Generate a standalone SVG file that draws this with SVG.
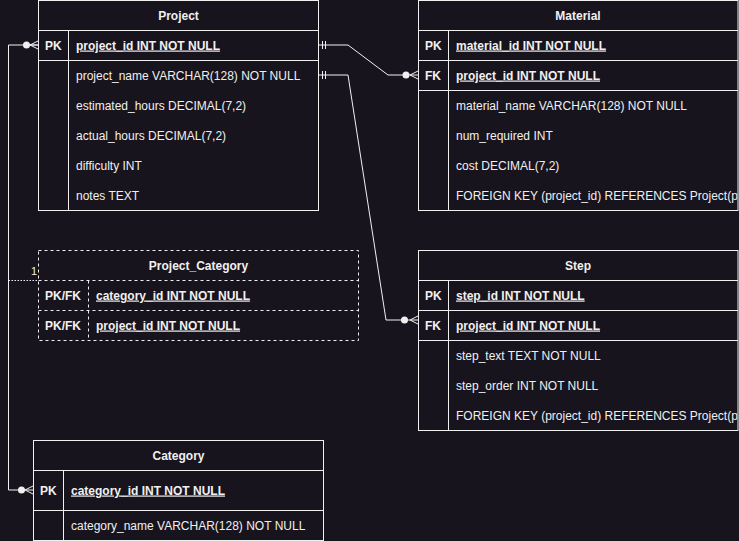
<svg xmlns="http://www.w3.org/2000/svg" width="739" height="541" viewBox="0 0 739 541">
<style>
.bg{fill:#18141d}
.box{fill:#18141d;stroke:#f0f0f0;stroke-width:1}
.dash{fill:#18141d;stroke:#f0f0f0;stroke-width:1;stroke-dasharray:3 3}
.ln{stroke:#f0f0f0;stroke-width:1;fill:none}
.dln{stroke:#f0f0f0;stroke-width:1;fill:none;stroke-dasharray:3 3}
.dl{stroke:#f0f0f0;stroke-width:1;fill:none;stroke-dasharray:1.5 1.5}
text{font-family:"Liberation Sans",Arial,sans-serif;font-size:12px;fill:#f0f0f0}
.h{font-weight:bold;text-anchor:middle}
.k{font-weight:bold}
.u{font-weight:bold;text-decoration:underline}
.dot{fill:#f0f0f0}
</style>
<defs>
<clipPath id="clipR"><rect x="0" y="0" width="737.5" height="541"/></clipPath>
</defs>
<rect class="bg" x="0" y="0" width="739" height="541"/>

<g id="connectors">
<!-- Project.project_id to Category.category_id (left loop) -->
<path class="ln" d="M38,45 H8.5 V490 H33"/>
<circle class="dot" cx="26.5" cy="45" r="3.5"/>
<path class="ln" d="M38,41 L30,45 L38,49 M30,45 H38"/>
<circle class="dot" cx="21.5" cy="490" r="3.5"/>
<path class="ln" d="M33,486 L25,490 L33,494"/>
<!-- dotted to Project_Category -->
<path class="dl" d="M8.5,280.5 H38"/>
<text x="37" y="275" style="text-anchor:end;font-size:11px">1</text>
<!-- Project.project_id to Material.project_id -->
<path class="ln" d="M318.5,45 H348 L388,75 H418"/>
<path class="ln" d="M322.5,41 V49 M325.5,41 V49"/>
<circle class="dot" cx="406" cy="75" r="3.5"/>
<path class="ln" d="M418,71 L410,75 L418,79"/>
<!-- Project.project_name to Step.project_id -->
<path class="ln" d="M318.5,75 H348 L386,320 H418"/>
<path class="ln" d="M322.5,71 V79 M325.5,71 V79"/>
<circle class="dot" cx="404.5" cy="320" r="3.5"/>
<path class="ln" d="M418,316 L410,320 L418,324"/>
</g>

<g id="project">
<rect class="box" x="38.5" y="0.5" width="280" height="210"/>
<path class="ln" d="M38.5,30.5 H318.5 M38.5,60.5 H318.5 M68.5,30.5 V210.5"/>
<text class="h" x="178.5" y="19.5">Project</text>
<text class="k" x="45" y="49.5">PK</text>
<text class="u" x="76" y="49.5">project_id INT NOT NULL</text>
<text x="76" y="79.5">project_name VARCHAR(128) NOT NULL</text>
<text x="76" y="109.5">estimated_hours DECIMAL(7,2)</text>
<text x="76" y="139.5">actual_hours DECIMAL(7,2)</text>
<text x="76" y="169.5">difficulty INT</text>
<text x="76" y="199.5">notes TEXT</text>
</g>

<g id="material">
<rect class="box" x="418.5" y="0.5" width="319.5" height="210"/>
<path class="ln" d="M418.5,30.5 H738 M418.5,60.5 H738 M418.5,90.5 H738 M448.5,30.5 V210.5"/>
<text class="h" x="578" y="19.5">Material</text>
<text class="k" x="425" y="49.5">PK</text>
<text class="u" x="456" y="49.5">material_id INT NOT NULL</text>
<text class="k" x="425" y="79.5">FK</text>
<text class="u" x="456" y="79.5">project_id INT NOT NULL</text>
<text x="456" y="109.5">material_name VARCHAR(128) NOT NULL</text>
<text x="456" y="139.5">num_required INT</text>
<text x="456" y="169.5">cost DECIMAL(7,2)</text>
<text x="456" y="199.5" clip-path="url(#clipR)">FOREIGN KEY (project_id) REFERENCES Project(p</text>
</g>

<g id="project_category">
<rect class="dash" x="38.5" y="250.5" width="320" height="90"/>
<path class="dln" d="M38.5,280.5 H358.5 M38.5,310.5 H358.5 M88.5,280.5 V340.5"/>
<text class="h" x="198.5" y="269.5">Project_Category</text>
<text class="k" x="45" y="299.5">PK/FK</text>
<text class="u" x="96" y="299.5">category_id INT NOT NULL</text>
<text class="k" x="45" y="329.5">PK/FK</text>
<text class="u" x="96" y="329.5">project_id INT NOT NULL</text>
</g>

<g id="step">
<rect class="box" x="418.5" y="250.5" width="319.5" height="180"/>
<path class="ln" d="M418.5,280.5 H738 M418.5,310.5 H738 M418.5,340.5 H738 M448.5,280.5 V430.5"/>
<text class="h" x="578" y="269.5">Step</text>
<text class="k" x="425" y="299.5">PK</text>
<text class="u" x="456" y="299.5">step_id INT NOT NULL</text>
<text class="k" x="425" y="329.5">FK</text>
<text class="u" x="456" y="329.5">project_id INT NOT NULL</text>
<text x="456" y="359.5">step_text TEXT NOT NULL</text>
<text x="456" y="389.5">step_order INT NOT NULL</text>
<text x="456" y="419.5" clip-path="url(#clipR)">FOREIGN KEY (project_id) REFERENCES Project(p</text>
</g>

<g id="category">
<rect class="box" x="33.5" y="440.5" width="290" height="100"/>
<path class="ln" d="M33.5,470.5 H323.5 M33.5,510.5 H323.5 M63.5,470.5 V540.5"/>
<text class="h" x="178.5" y="459.5">Category</text>
<text class="k" x="40" y="494.5">PK</text>
<text class="u" x="71" y="494.5">category_id INT NOT NULL</text>
<text x="71" y="529.5">category_name VARCHAR(128) NOT NULL</text>
</g>
</svg>
